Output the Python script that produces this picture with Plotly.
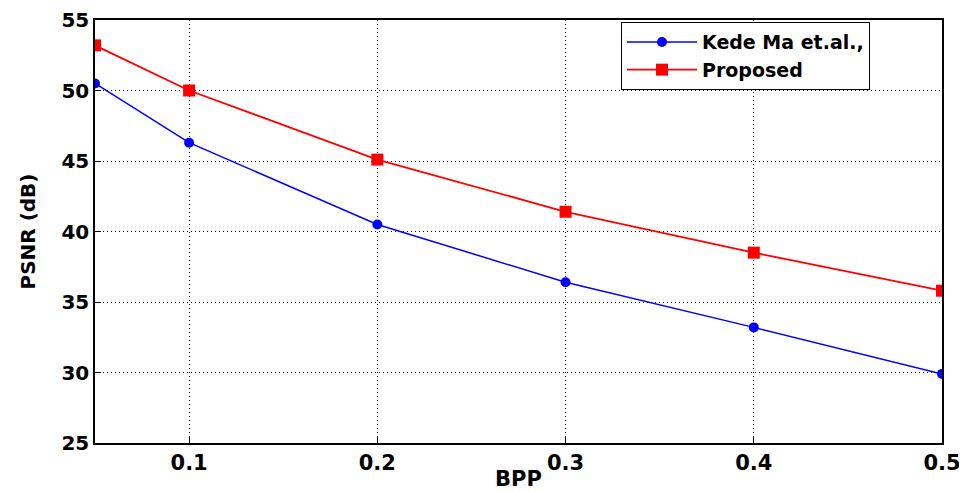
import plotly.graph_objects as go

bpp = [0.05, 0.1, 0.2, 0.3, 0.4, 0.5]
kede_ma = [50.5, 46.3, 40.5, 36.4, 33.2, 29.9]
proposed = [53.2, 50.0, 45.1, 41.4, 38.5, 35.8]
x_ticks = [0.1, 0.2, 0.3, 0.4, 0.5]
y_ticks = [25, 30, 35, 40, 45, 50, 55]

FONT = "DejaVu Sans, Arial, sans-serif"

fig = go.Figure()
fig.add_trace(go.Scatter(
    x=bpp, y=kede_ma, name="Kede Ma et.al.,", mode="lines+markers",
    line=dict(color="#0000ff", width=1.5),
    marker=dict(symbol="circle", size=10, color="#0000ff"),
))
fig.add_trace(go.Scatter(
    x=bpp, y=proposed, name="Proposed", mode="lines+markers",
    line=dict(color="#ff0000", width=1.8),
    marker=dict(symbol="square", size=12, color="#ff0000"),
))

axis_common = dict(
    showline=True, linecolor="black", linewidth=1.5, mirror=True,
    showgrid=True, gridcolor="black", griddash="1px,3px", gridwidth=1,
    ticks="inside", ticklen=6, tickcolor="black",
    zeroline=False, automargin=False, ticklabeloverflow="allow",
)

fig.update_xaxes(
    range=[0.05, 0.5], tickvals=x_ticks, ticktext=[str(v) for v in x_ticks],
    tickfont=dict(family=FONT, size=21, color="black", weight="bold"),
    title=dict(text="BPP", font=dict(family=FONT, size=21, color="black", weight="bold"), standoff=2),
    **axis_common,
)
fig.update_yaxes(
    range=[25, 55], tickvals=y_ticks,
    tickfont=dict(family=FONT, size=20, color="black", weight="bold"),
    title=dict(text="PSNR (dB)", font=dict(family=FONT, size=20, color="black", weight="bold"), standoff=20),
    **axis_common,
)

# page body has an 8px default margin, so the figure is offset by (8, 8)
fig.update_layout(
    width=959, height=483,
    margin=dict(l=87, r=25, t=12, b=48),
    plot_bgcolor="white", paper_bgcolor="white",
    legend=dict(
        x=0.621, y=0.995, xanchor="left", yanchor="top",
        bordercolor="black", borderwidth=1, bgcolor="white",
        font=dict(family=FONT, size=19, color="black", weight="bold"),
        tracegroupgap=0, itemwidth=70,
    ),
)

fig.write_html("out.html")
